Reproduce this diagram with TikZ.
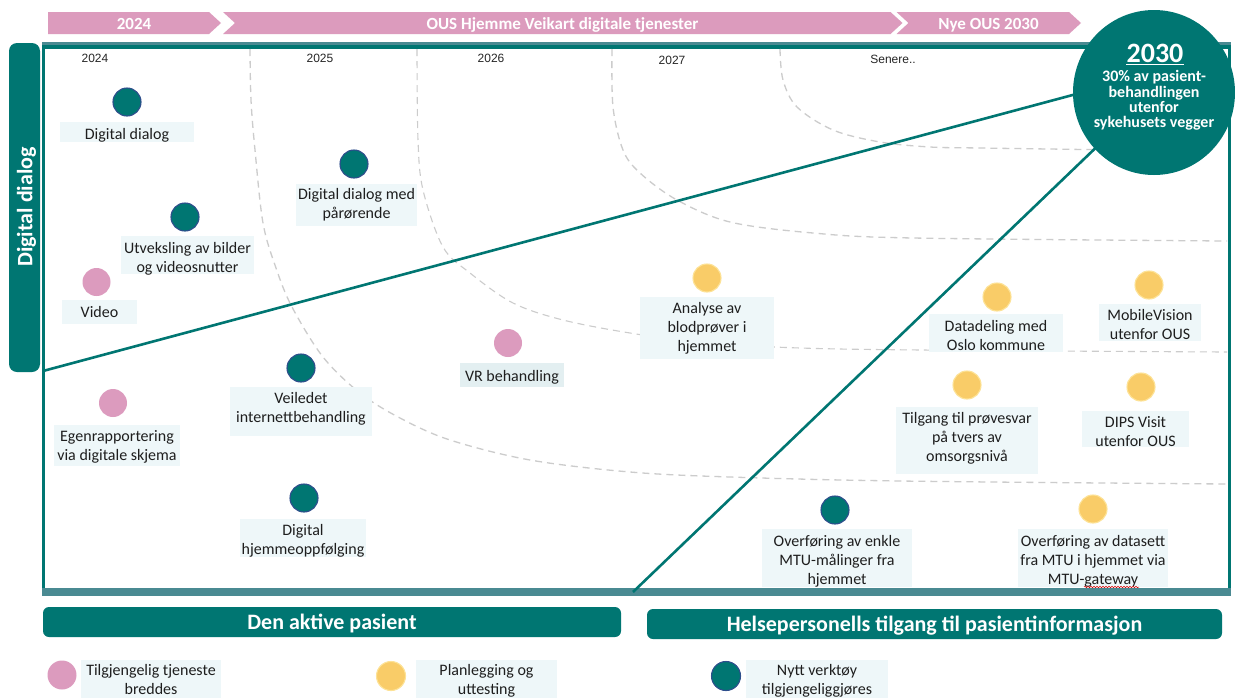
\documentclass[tikz,border=0pt]{standalone}
\usepackage{fontspec}
\setmainfont{Carlito}
\newfontfamily\yearfont{Liberation Sans}
\usetikzlibrary{decorations.pathmorphing,shapes.geometric}

\definecolor{roadteal}{RGB}{0,118,114}
\definecolor{headpink}{RGB}{220,155,189}
\definecolor{dotpink}{RGB}{220,155,190}
\definecolor{dotyellow}{RGB}{249,204,104}
\definecolor{yellowrim}{RGB}{253,226,150}
\definecolor{dotrim}{RGB}{46,78,140}
\definecolor{boxfill}{RGB}{238,247,249}
\definecolor{vrfill}{RGB}{227,239,241}
\definecolor{framegrey}{RGB}{74,138,146}
\definecolor{dashgrey}{RGB}{204,204,204}
\definecolor{labelink}{RGB}{30,30,30}
\definecolor{yearink}{RGB}{38,38,38}

% one roadmap entry: dot, label box and label text
\newcommand\roaditem[8]{%
  \node[#3] (#1dot) at (#2) {};
  \node[lblbox, minimum width=#5pt, minimum height=#6pt] (#1box) at (#4) {};
  \node[lbltxt] (#1) at (#7) {#8};
}

\begin{document}
\begin{tikzpicture}[x=1pt,y=-1pt,
  dotbase/.style={circle, inner sep=0pt, minimum size=28pt},
  tealdot/.style={dotbase, fill=roadteal, draw=dotrim, line width=1.1pt},
  pinkdot/.style={dotbase, fill=dotpink},
  yellowdot/.style={dotbase, fill=dotyellow, draw=yellowrim, line width=1.1pt},
  legdot/.style={minimum size=29pt},
  lblbox/.style={rectangle, fill=boxfill, inner sep=0pt},
  lbltxt/.style={align=center, inner sep=0pt, text=labelink, yshift=-3.5pt,
    font=\fontsize{16}{19}\selectfont,
    execute at begin node=\strut, execute at end node=\strut},
  headtxt/.style={anchor=base, inner sep=0pt, text=white,
    font=\bfseries\fontsize{17}{20}\selectfont},
  yearlbl/.style={inner sep=0pt, text=yearink,
    font=\yearfont\fontsize{12}{14}\selectfont},
  roaddash/.style={draw=dashgrey, line width=1.3pt, dash pattern=on 7pt off 5pt},
  diag/.style={draw=roadteal, line width=2.6pt},
  themebar/.style={rectangle, fill=roadteal, rounded corners=6pt, inner sep=0pt,
    text=white, text depth=0pt, font=\bfseries\fontsize{22}{24}\selectfont},
]
\useasboundingbox (0,0) rectangle (1235,697);
\fill[white] (0,0) rectangle (1235,697);

% ---- timeline chevrons
\fill[headpink] (48,12) -- (209,12) -- (221,23) -- (209,34) -- (48,34) -- cycle;
\fill[headpink] (223,12) -- (890.5,12) -- (902.5,23) -- (890.5,34) -- (223,34) -- (235,23) -- cycle;
\fill[headpink] (896.5,12) -- (1069,12) -- (1081,23) -- (1069,34) -- (896.5,34) -- (908.5,23) -- cycle;
\node[headtxt] (h2024) at (134,29.5) {2024};
\node[headtxt] (hmid) at (562.5,29.5) {OUS Hjemme Veikart digitale tjenester};
\node[headtxt] (h2030) at (988.5,29.5) {Nye OUS 2030};

% ---- side title
\node[rectangle, fill=roadteal, rounded corners=8pt, inner sep=0pt,
      minimum width=31pt, minimum height=329pt] (sidebar) at (24.5,207.5) {};
\node[rotate=90, inner sep=0pt, text=white,
      font=\bfseries\fontsize{22}{24}\selectfont] (sidetitle) at (26.5,207) {Digital dialog};

% ---- frame
\draw[roadteal, line width=3pt] (43.5,46) -- (43.5,591);
\draw[roadteal, line width=3pt] (1229,46) -- (1229,591);
\fill[roadteal] (42,43.5) rectangle (1230.5,49);
\fill[framegrey] (42,42) rectangle (1230.5,44.5);
\fill[framegrey] (42,588) rectangle (1230.5,595.5);

% ---- period boundaries
\draw[roaddash] plot[smooth, tension=0.55] coordinates {(250,49) (251,100) (255,150) (263,223)
  (276,268) (292,307) (323,357) (360,393) (400,418) (450,440) (530,460) (630,472) (730,477)
  (900,481) (1227,484)};
\draw[roaddash, line width=1.1pt] plot[smooth, tension=0.55] coordinates {(417,49) (418,140) (423,190)
  (443,247) (470,273) (513,303) (563,320) (630,333) (700,342) (840,349) (1227,352)};
\draw[roaddash] plot[smooth, tension=0.55] coordinates {(612,49) (613,107) (623,150) (640,173)
  (677,200) (730,222) (813,233) (913,238) (1227,241)};
\draw[roaddash] plot[smooth, tension=0.55] coordinates {(780,49) (783,80) (797,107) (833,130)
  (880,142) (930,147) (980,148) (1120,150)};

% ---- year labels
\node[yearlbl] (y2024) at (95,58) {2024};
\node[yearlbl] (y2025) at (320,58) {2025};
\node[yearlbl] (y2026) at (491,58) {2026};
\node[yearlbl] (y2027) at (672,60) {2027};
\node[yearlbl] (ylater) at (893,59) {Senere..};

% ---- trend lines towards the 2030 goal
\coordinate (diagAstart) at (43,371);
\coordinate (diagAend) at (1110,85);
\coordinate (diagBstart) at (633,592);
\coordinate (diagBend) at (1120,124.5);
\draw[diag] (diagAstart) -- (diagAend);
\draw[diag] (diagBstart) -- (diagBend);

% ---- 2030 goal
\node[ellipse, fill=roadteal, minimum width=162pt, minimum height=165pt, inner sep=0pt] (goal) at (1154,92.5) {};
\draw[roadteal, line width=3pt] (1229,150) -- (1229,180);
\node[anchor=base, inner sep=0pt, text=white,
      font=\bfseries\fontsize{28}{30}\selectfont] (goalyear) at (1155,62) {2030};
\draw[white, line width=1.8pt] ([yshift=-2.5pt]goalyear.base west) -- ([yshift=-2.5pt]goalyear.base east);
\node[align=center, inner sep=0pt, text=white,
      font=\bfseries\fontsize{16}{15.4}\selectfont,
      execute at begin node=\strut, execute at end node=\strut] (goaltext) at (1154,101.5)
      {30\% av pasient-\\behandlingen\\utenfor\\sykehusets vegger};

% ---- services
\roaditem{dd}{127,102}{tealdot}{127,132}{134}{20}{127,132}{Digital dialog}
\roaditem{ddp}{354,164}{tealdot}{356.5,205}{121}{42}{356.5,202.5}{Digital dialog med\\pårørende}
\roaditem{utv}{185,217}{tealdot}{187.5,255}{133}{38}{187.5,256.5}{Utveksling av bilder\\og videosnutter}
\roaditem{vid}{96.5,282}{pinkdot}{99.5,312}{75}{24}{99.5,310.5}{Video}
\roaditem{vei}{301,368}{tealdot}{301,411.5}{142}{49}{301,407}{Veiledet\\internettbehandling}
\roaditem{egn}{113,403}{pinkdot}{117,445.5}{126}{41}{117,444.5}{Egenrapportering\\via digitale skjema}
\roaditem{dho}{304,498}{tealdot}{303,538}{126}{38}{303,539}{Digital\\hjemmeoppfølging}
\node[lblbox, fill=vrfill, minimum width=104pt, minimum height=24pt] (vrbox) at (512,375) {};
\node[pinkdot] (vrdot) at (508,343) {};
\node[lbltxt] (vr) at (512,374) {VR behandling};
\roaditem{ana}{707,278}{yellowdot}{707,328}{134}{62}{707,326}{Analyse av\\blodprøver i\\hjemmet}
\roaditem{dat}{997,297}{yellowdot}{996,333}{134}{38}{996,334.5}{Datadeling med\\Oslo kommune}
\roaditem{mob}{1149,285}{yellowdot}{1150,322.5}{102}{37}{1150,323.5}{MobileVision\\utenfor OUS}
\roaditem{til}{967,385}{yellowdot}{967,440.5}{142}{67}{967,436.5}{Tilgang til prøvesvar\\på tvers av\\omsorgsnivå}
\roaditem{dips}{1141,387}{yellowdot}{1135.5,429}{107}{36}{1135.5,431}{DIPS Visit\\utenfor OUS}
\roaditem{mtua}{835,510}{tealdot}{837,558}{150}{58}{837,559}{Overføring av enkle\\MTU-målinger fra\\hjemmet}
\roaditem{mtub}{1093,509}{yellowdot}{1093,558}{150}{58}{1093,559}{Overføring av datasett\\fra MTU i hjemmet via\\MTU-gateway}

% spell-check mark under "gateway"
\coordinate (wavea) at (1084,587);
\coordinate (waveb) at (1139,587);
\draw[red!85!black, line width=0.5pt, decorate,
      decoration={snake, amplitude=0.8pt, segment length=3pt}] (wavea) -- (waveb);

% ---- themes
\node[themebar, minimum width=578pt, minimum height=30pt] (themeA) at (332,622) {Den aktive pasient};
\node[themebar, minimum width=575pt, minimum height=30pt] (themeB) at (934.5,624)
  {Helsepersonells tilgang til pasientinformasjon};

% ---- legend
\roaditem{lgpink}{62,675}{pinkdot,legdot}{151,680}{140}{40}{151,679}{Tilgjengelig tjeneste\\breddes}
\roaditem{lgyellow}{391,676}{yellowdot,legdot}{486.5,680}{141}{40}{486.5,679}{Planlegging og\\uttesting}
\roaditem{lgteal}{726,676}{tealdot,legdot}{817,680}{142}{40}{817,679}{Nytt verktøy\\tilgjengeliggjøres}
\end{tikzpicture}
\end{document}
